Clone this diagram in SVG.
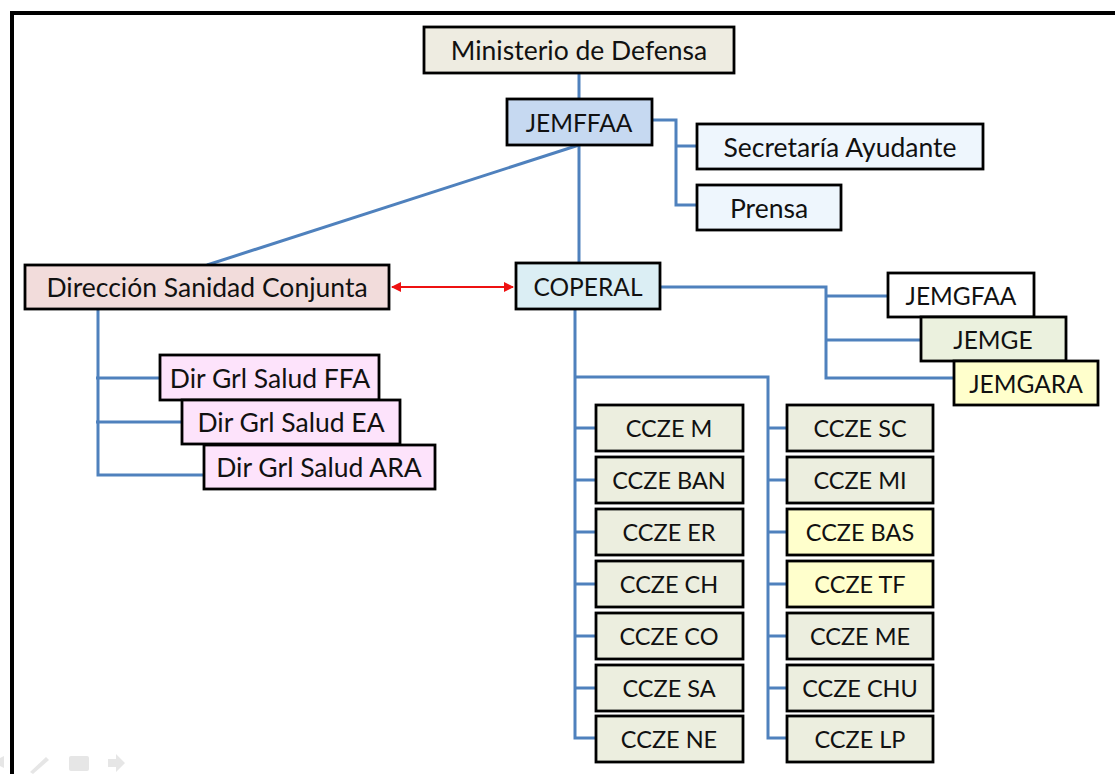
<svg xmlns="http://www.w3.org/2000/svg" width="1115" height="774" viewBox="0 0 1115 774">
<defs>
<style>
.b{stroke:#000;stroke-width:2.8}
.t{font-family:Lato,"Liberation Sans",sans-serif;font-size:26.5px;fill:#111;text-anchor:middle;dominant-baseline:central}
.u{font-size:24.5px}
.z{font-size:23.5px}
.c{fill:none;stroke:#4f81bd;stroke-width:3}
.ccze{fill:#eceedf}
.y{fill:#ffffcc}
.pk{fill:#fde3fb}
</style>
<marker id="ar" viewBox="0 0 10 10" refX="9" refY="5" markerWidth="5" markerHeight="5" orient="auto-start-reverse"><path d="M0,0 L10,5 L0,10 z" fill="#ee1111"/></marker>
</defs>
<rect width="1115" height="774" fill="#fff"/>
<path d="M12,774 V13 H1115" fill="none" stroke="#000" stroke-width="4"/>
<g id="connectors">
<path class="c" d="M579,73 V100"/>
<path class="c" d="M652,120 H676 V205 H697 M676,146 H697"/>
<path class="c" d="M579,145 L207,265"/>
<path class="c" d="M579,145 V263"/>
<path d="M392,287 H513" stroke="#ee1111" stroke-width="2" marker-start="url(#ar)" marker-end="url(#ar)"/>
<path class="c" d="M660,287 H826 V378 H954 M826,296 H888 M826,340 H921"/>
<path class="c" d="M98,309 V475 H204 M96,378 H160 M96,422 H182"/>
<path class="c" d="M575,309 V738 H596 M575,377 H768 V738 H787"/>
<path class="c" d="M575,428 H596 M575,480 H596 M575,532 H596 M575,584 H596 M575,636 H596 M575,688 H596"/>
<path class="c" d="M768,428 H787 M768,480 H787 M768,532 H787 M768,584 H787 M768,636 H787 M768,688 H787"/>
</g>
<g id="ministerio"><rect class="b" x="424" y="27" width="310" height="46" fill="#eeece1"/><text class="t" x="579" y="50">Ministerio de Defensa</text></g>
<g id="jemffaa"><rect class="b" x="507" y="99" width="145" height="46" fill="#c6d9f1"/><text class="t u" x="579" y="122">JEMFFAA</text></g>
<g id="secretaria"><rect class="b" x="697" y="124" width="286" height="45" fill="#eef6fd"/><text class="t" x="840" y="147">Secretaría Ayudante</text></g>
<g id="prensa"><rect class="b" x="697" y="185" width="144" height="45" fill="#eef6fd"/><text class="t" x="769" y="208">Prensa</text></g>
<g id="direccion"><rect class="b" x="25" y="265" width="364" height="44" fill="#f2dcdb"/><text class="t" x="207" y="287">Dirección Sanidad Conjunta</text></g>
<g id="coperal"><rect class="b" x="516" y="263" width="144" height="46" fill="#dbeef4"/><text class="t u" x="588" y="286">COPERAL</text></g>
<g id="jemgfaa"><rect class="b" x="888" y="273" width="146" height="44" fill="#fff"/><text class="t u" x="961" y="295">JEMGFAA</text></g>
<g id="jemge"><rect class="b" x="921" y="317" width="145" height="44" fill="#ebf1de"/><text class="t u" x="993" y="339">JEMGE</text></g>
<g id="jemgara"><rect class="b" x="954" y="361" width="144" height="44" fill="#ffffcc"/><text class="t u" x="1026" y="383">JEMGARA</text></g>
<g id="dgs-ffa"><rect class="b pk" x="160" y="355" width="219" height="45"/><text class="t" x="270" y="378">Dir Grl Salud FFA</text></g>
<g id="dgs-ea"><rect class="b pk" x="182" y="400" width="218" height="44"/><text class="t" x="291" y="422">Dir Grl Salud EA</text></g>
<g id="dgs-ara"><rect class="b pk" x="204" y="445" width="231" height="44"/><text class="t" x="319" y="467">Dir Grl Salud ARA</text></g>
<g id="ccze-m"><rect class="b ccze" x="596" y="405" width="147" height="46"/><text class="t z" x="669" y="428">CCZE M</text></g>
<g id="ccze-ban"><rect class="b ccze" x="596" y="457" width="147" height="46"/><text class="t z" x="669" y="480">CCZE BAN</text></g>
<g id="ccze-er"><rect class="b ccze" x="596" y="509" width="147" height="46"/><text class="t z" x="669" y="532">CCZE ER</text></g>
<g id="ccze-ch"><rect class="b ccze" x="596" y="561" width="147" height="46"/><text class="t z" x="669" y="584">CCZE CH</text></g>
<g id="ccze-co"><rect class="b ccze" x="596" y="613" width="147" height="46"/><text class="t z" x="669" y="636">CCZE CO</text></g>
<g id="ccze-sa"><rect class="b ccze" x="596" y="665" width="147" height="46"/><text class="t z" x="669" y="688">CCZE SA</text></g>
<g id="ccze-ne"><rect class="b ccze" x="596" y="716" width="147" height="46"/><text class="t z" x="669" y="739">CCZE NE</text></g>
<g id="ccze-sc"><rect class="b ccze" x="787" y="405" width="146" height="46"/><text class="t z" x="860" y="428">CCZE SC</text></g>
<g id="ccze-mi"><rect class="b ccze" x="787" y="457" width="146" height="46"/><text class="t z" x="860" y="480">CCZE MI</text></g>
<g id="ccze-bas"><rect class="b y" x="787" y="509" width="146" height="46"/><text class="t z" x="860" y="532">CCZE BAS</text></g>
<g id="ccze-tf"><rect class="b y" x="787" y="561" width="146" height="46"/><text class="t z" x="860" y="584">CCZE TF</text></g>
<g id="ccze-me"><rect class="b ccze" x="787" y="613" width="146" height="46"/><text class="t z" x="860" y="636">CCZE ME</text></g>
<g id="ccze-chu"><rect class="b ccze" x="787" y="665" width="146" height="46"/><text class="t z" x="860" y="688">CCZE CHU</text></g>
<g id="ccze-lp"><rect class="b ccze" x="787" y="716" width="146" height="46"/><text class="t z" x="860" y="739">CCZE LP</text></g>
<g id="controls" fill="#e6e6e6">
<path d="M0,758 L4,756 V768 L0,766 z"/>
<path d="M30,772 L46,757 L49,760 L33,774 z"/>
<rect x="69" y="756" width="20" height="15" rx="2"/>
<path d="M108,759 H116 V754 L125,763 L116,772 V767 H108 z"/>
</g>
</svg>
